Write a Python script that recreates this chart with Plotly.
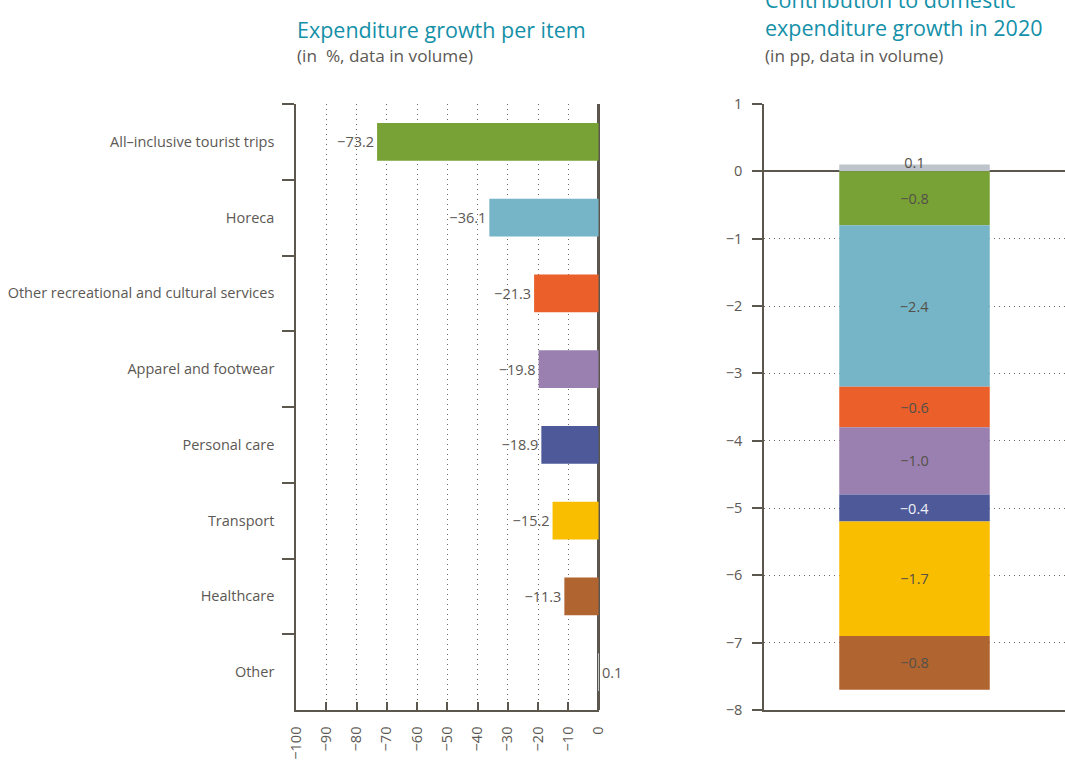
import plotly.graph_objects as go

# Expenditure growth per item (%, volume)
items = [
    "All\u2013inclusive tourist trips",
    "Horeca",
    "Other recreational and cultural services",
    "Apparel and footwear",
    "Personal care",
    "Transport",
    "Healthcare",
    "Other",
]
growth = [-73.2, -36.1, -21.3, -19.8, -18.9, -15.2, -11.3, 0.1]

# Contribution to domestic expenditure growth in 2020 (pp, volume), stacked top to bottom
contrib_items = [
    "Other",
    "All\u2013inclusive tourist trips",
    "Horeca",
    "Other recreational and cultural services",
    "Apparel and footwear",
    "Personal care",
    "Transport",
    "Healthcare",
]
contrib = [0.1, -0.8, -2.4, -0.6, -1.0, -0.4, -1.7, -0.8]
period = "2020"

item_colors = {
    "All\u2013inclusive tourist trips": "#78A235",
    "Horeca": "#76B5C7",
    "Other recreational and cultural services": "#EA5F2A",
    "Apparel and footwear": "#9A80B0",
    "Personal care": "#4E5999",
    "Transport": "#FABE00",
    "Healthcare": "#B06430",
    "Other": "#BDC4CA",
}

W, H = 1065, 765
TEXT = "#5c5854"
AXIS = "#5b564e"
TEAL = "#1490A9"
FONT = "Open Sans"
FS = 14.5


def fmt(v):
    # one decimal, typographic minus sign
    return f"{v:.1f}".replace("-", "\u2212")


fig = go.Figure()

# Left panel: horizontal bars per item
fig.add_trace(go.Bar(
    x=growth, y=items, orientation="h",
    marker=dict(color=[item_colors[i] for i in items], line=dict(width=0)),
    width=0.5,
    text=[fmt(v) for v in growth], textposition="outside",
    textfont=dict(family=FONT, size=FS, color=TEXT),
    cliponaxis=False,
    xaxis="x", yaxis="y", showlegend=False, hoverinfo="skip",
))

# Right panel: one stacked column of contributions
for name, val in zip(contrib_items, contrib):
    lab_color = "#eef0f6" if name == "Personal care" else "#555049"
    inside = val < 0
    fig.add_trace(go.Bar(
        x=[period], y=[val], name=name,
        marker=dict(color=item_colors[name], line=dict(width=0)),
        width=0.5,
        text=[fmt(val)] if inside else None,
        textposition="inside" if inside else "none",
        insidetextanchor="middle",
        textangle=0,
        textfont=dict(family=FONT, size=FS, color=lab_color),
        cliponaxis=False,
        xaxis="x2", yaxis="y2", showlegend=False, hoverinfo="skip",
    ))
    if not inside:
        # thin positive segment: label centred on its top edge
        fig.add_trace(go.Scatter(
            x=[period], y=[val], mode="text", text=[fmt(val)],
            textposition="middle center",
            textfont=dict(family=FONT, size=FS, color="#555049"),
            cliponaxis=False,
            xaxis="x2", yaxis="y2", showlegend=False, hoverinfo="skip",
        ))

y_dom = [1 - 710 / H, 1 - 104 / H]
grid_dash = "1px,4px"

fig.update_layout(
    width=W, height=H,
    margin=dict(l=0, r=0, t=0, b=0, autoexpand=False),
    paper_bgcolor="white", plot_bgcolor="white",
    barmode="relative",
    font=dict(family=FONT, size=FS, color=TEXT),
    uniformtext=dict(minsize=8, mode="show"),
    xaxis=dict(
        domain=[296 / W, 599 / W], range=[-100, 0.15],
        tickvals=list(range(-100, 1, 10)), tickangle=-90,
        ticks="inside", ticklen=8, tickwidth=1.5, tickcolor=AXIS,
        ticklabelstandoff=9,
        showline=True, linecolor=AXIS, linewidth=1.5,
        showgrid=True, gridcolor="#6b665f", gridwidth=1.3, griddash=grid_dash,
        zeroline=True, zerolinecolor=AXIS, zerolinewidth=2.5,
        tickfont=dict(family=FONT, size=FS, color=TEXT),
        automargin=False, fixedrange=True,
    ),
    yaxis=dict(
        domain=y_dom, anchor="x",
        type="category", autorange="reversed",
        tickson="boundaries", ticks="outside", ticklen=12, tickwidth=1.5, tickcolor=AXIS,
        showline=True, linecolor=AXIS, linewidth=1.5,
        showgrid=False, zeroline=False,
        tickfont=dict(family=FONT, size=FS, color=TEXT),
        ticklabelstandoff=17,
        automargin=False, fixedrange=True,
    ),
    xaxis2=dict(
        domain=[764 / W, 1.0], anchor="y2",
        type="category", range=[-0.5, 0.5],
        showticklabels=False, ticks="",
        showline=True, linecolor=AXIS, linewidth=1.5,
        showgrid=False, zeroline=False,
        automargin=False, fixedrange=True,
    ),
    yaxis2=dict(
        domain=y_dom, anchor="x2",
        range=[-8, 1], dtick=1, tick0=0,
        ticks="outside", ticklen=10, tickwidth=1.5, tickcolor=AXIS,
        ticklabelstandoff=7,
        showline=True, linecolor=AXIS, linewidth=1.5,
        showgrid=True, gridcolor="#6b665f", gridwidth=1.3, griddash=grid_dash,
        zeroline=True, zerolinecolor=AXIS, zerolinewidth=1.5,
        tickfont=dict(family=FONT, size=FS, color=TEXT),
        automargin=False, fixedrange=True,
    ),
)


def py(px):
    return 1 - px / H


titles = [
    dict(text="Expenditure growth per item", x=295 / W, y=py(30),
         font=dict(family=FONT, size=21.5, color=TEAL)),
    dict(text="(in  %, data in volume)", x=295 / W, y=py(56),
         font=dict(family=FONT, size=17.2, color=TEXT)),
    dict(text="Contribution to domestic<br>expenditure growth in 2020",
         x=763 / W, y=py(44), yanchor="bottom",
         font=dict(family=FONT, size=21.5, color=TEAL)),
    dict(text="(in pp, data in volume)", x=763 / W, y=py(56),
         font=dict(family=FONT, size=17.2, color=TEXT)),
]
for a in titles:
    a.setdefault("yanchor", "middle")
    a.update(xref="paper", yref="paper", xanchor="left", align="left",
             showarrow=False)
fig.update_layout(annotations=titles)

fig.write_html("out.html")
